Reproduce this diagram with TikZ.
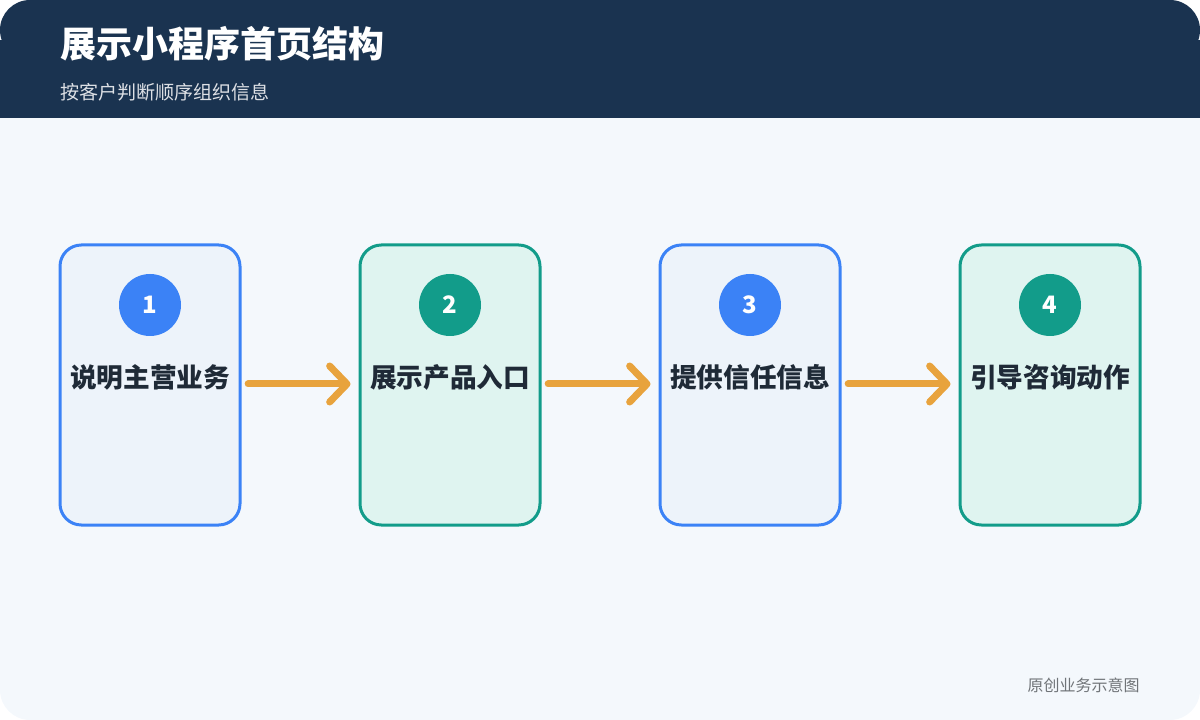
\documentclass[tikz,border=0pt]{standalone}
\usepackage{fontspec}
\setmainfont{Noto Sans CJK SC}
\usetikzlibrary{arrows.meta}
\definecolor{navy}{HTML}{1A3350}
\definecolor{pagebg}{HTML}{F4F8FC}
\definecolor{blueline}{HTML}{3B82F6}
\definecolor{bluefill}{HTML}{EDF3FA}
\definecolor{greenline}{HTML}{129C8A}
\definecolor{greenfill}{HTML}{DFF4F0}
\definecolor{flow}{HTML}{E8A33D}
\definecolor{labeltext}{HTML}{1F2A37}
\tikzset{
  step box/.style={draw=#1line, fill=#1fill, line width=2.25pt, rounded corners=16pt,
    minimum width=135pt, minimum height=210pt, inner sep=0pt},
  step num/.style={circle, fill=#1line, minimum size=46.5pt, inner sep=0pt,
    text=white, font=\bfseries\fontsize{18}{18}\selectfont},
  step label/.style={text=labeltext, inner sep=0pt, font=\bfseries\fontsize{20}{20}\selectfont},
  flow arrow/.style={draw=flow, line width=5.25pt, line cap=round,
    -{Straight Barb[length=13pt, width=27pt, round]}}
}

\begin{document}
\begin{tikzpicture}[x=0.75pt,y=0.75pt,yscale=-1,xscale=1]
\useasboundingbox (0,0) rectangle (1200,720);

% page and header
\fill[pagebg, rounded corners=22.5pt] (0,0) rectangle (1200,720);
\fill[navy, rounded corners=22.5pt] (0,0) rectangle (1200,60);
\fill[navy] (0,40) rectangle (1200,118);
\node[anchor=west, inner sep=0pt, text=white, font=\bfseries\fontsize{27}{27}\selectfont] (title) at (60,44) {展示小程序首页结构};
\node[anchor=west, inner sep=0pt, text=white!85!navy, font=\fontsize{14.3}{14.3}\selectfont] (subtitle) at (60,92) {按客户判断顺序组织信息};

% steps
\node[step box=blue] (box1) at (150,385) {};
\node[step box=green] (box2) at (450,385) {};
\node[step box=blue] (box3) at (750,385) {};
\node[step box=green] (box4) at (1050,385) {};

\node[step num=blue] (num1) at (150,305) {1};
\node[step num=green] (num2) at (450,305) {2};
\node[step num=blue] (num3) at (750,305) {3};
\node[step num=green] (num4) at (1050,305) {4};

\node[step label] (lab1) at (150,377) {说明主营业务};
\node[step label] (lab2) at (450,377) {展示产品入口};
\node[step label] (lab3) at (750,377) {提供信任信息};
\node[step label] (lab4) at (1050,377) {引导咨询动作};

% connectors
\foreach \a/\b in {box1/box2, box2/box3, box3/box4}
  \draw[flow arrow, shorten <=5pt, shorten >=6pt] ([yshift=-0.75pt]\a.east) -- ([yshift=-0.75pt]\b.west);

\node[anchor=east, inner sep=0pt, text=gray!85!navy, font=\fontsize{12}{12}\selectfont] (note) at (1140,685) {原创业务示意图};
\end{tikzpicture}
\end{document}
